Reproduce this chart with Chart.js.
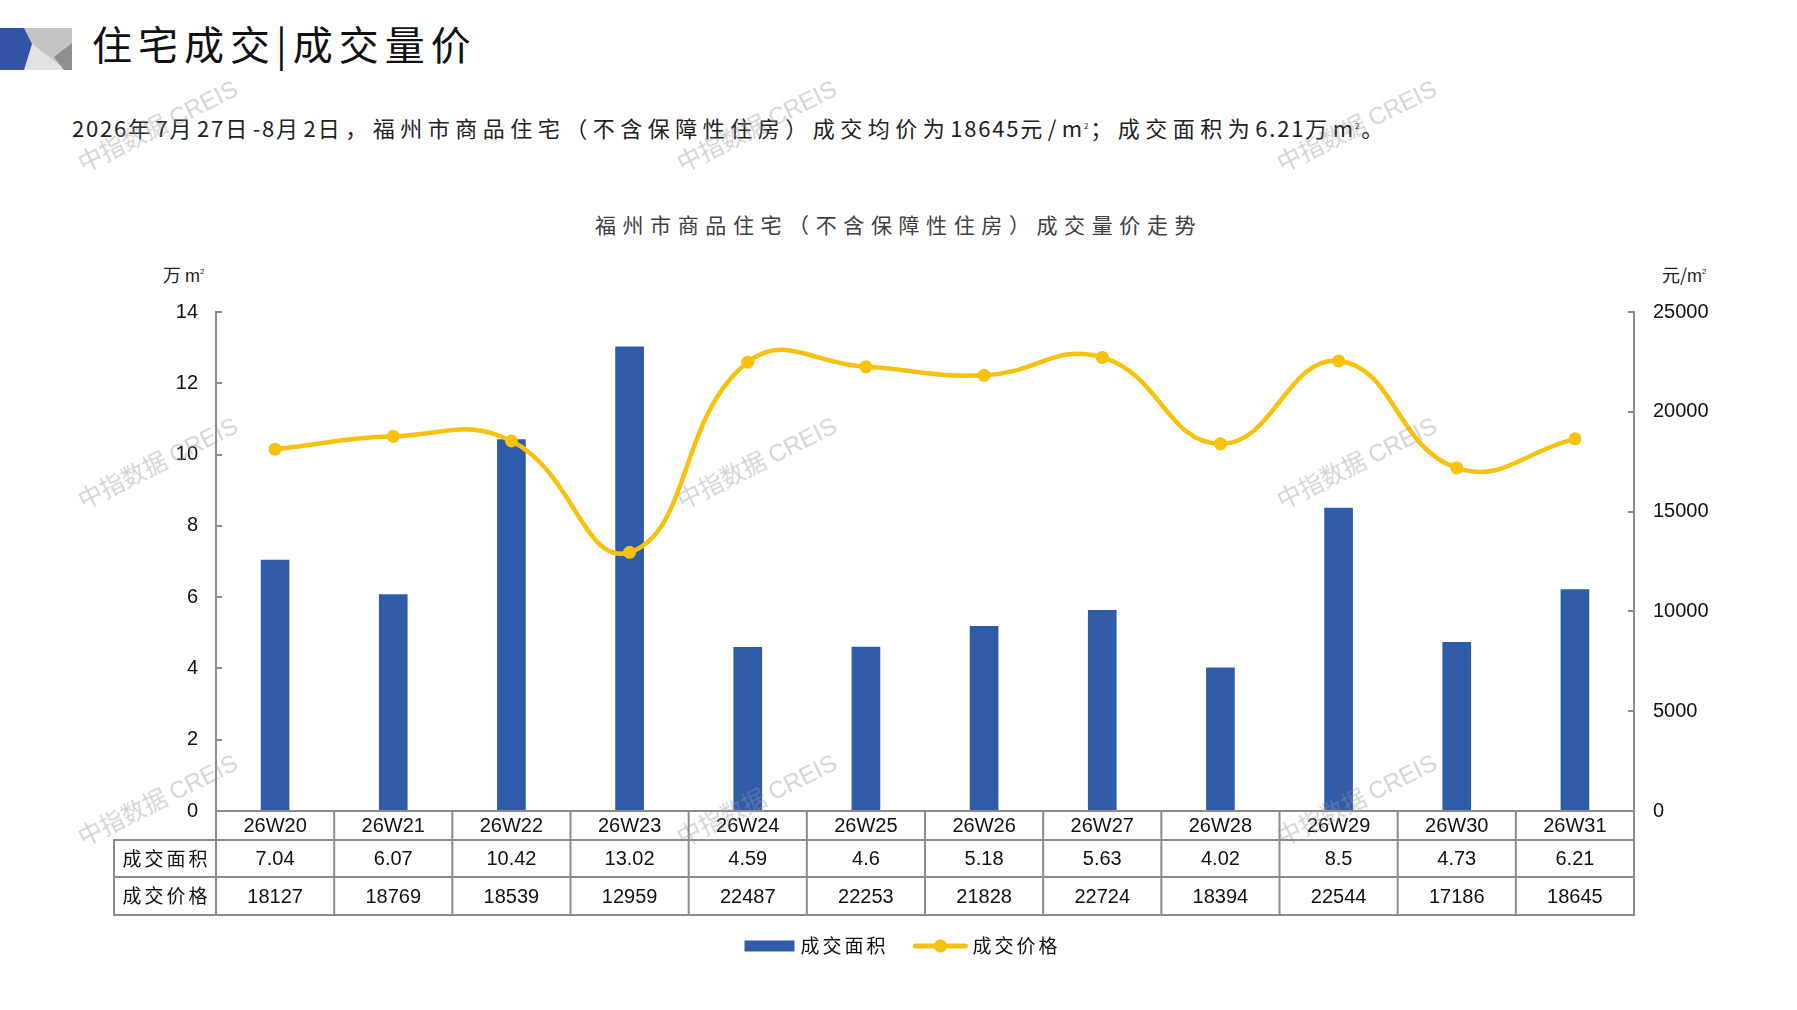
<!DOCTYPE html>
<html>
<head>
<meta charset="utf-8">
<script src="https://cdn.jsdelivr.net/npm/chart.js@4.4.1/dist/chart.umd.min.js"></script>
<style>
  html, body { margin:0; padding:0; background:#fff; width:1797px; height:1010px; overflow:hidden; }
  #wrap { position:absolute; left:0; top:0; width:1797px; height:1010px; }
  .abs { position:absolute; white-space:nowrap; }
  #title { left:92px; top:18px; font: 400 40px "Noto Sans CJK SC", sans-serif; letter-spacing:6px; color:#111; line-height:50px; }
  #sub { left:72px; top:110px; font: 400 22px "Noto Sans CJK SC", sans-serif; letter-spacing:5.5px; color:#222; line-height:32px; }
  #sub .n { letter-spacing:1.8px; }
  #ctitle { left:0; width:1797px; text-align:center; top:208px; font: 400 21px "Noto Sans CJK SC", sans-serif; letter-spacing:6.6px; color:#404040; line-height:32px; }
  .unit { top:259px; font: 400 18px "Noto Sans CJK SC", sans-serif; color:#222; line-height:26px; }
  .unit span { font-family: "Liberation Sans", Arial, sans-serif; }
  sup { font-size:8px; vertical-align: 8px; }
  .wm { position:absolute; white-space:nowrap; font: 400 24px "Noto Sans CJK SC", "Liberation Sans", sans-serif; color: rgba(150,150,150,0.42); transform: translate(-50%,-50%) rotate(-26.5deg); pointer-events:none; }
  .wm span { font-family: "Liberation Sans", Arial, sans-serif; }
</style>
</head>
<body>
<svg class="abs" style="left:0;top:0" width="80" height="80">
  <rect x="24" y="28" width="48" height="42" fill="#c4c4c4"/>
  <polygon points="30,42 22,70 66,70" fill="#e2e2e2"/>
  <polygon points="54,57 72,43 72,70 64,70" fill="#8e8e8e"/>
  <polygon points="0,28 24,28 32,44 24,70 0,70" fill="#3353a6"/>
</svg>
<div id="title" class="abs">住宅成交|成交量价</div>
<div id="sub" class="abs"><span class="n">2026</span>年<span class="n">7</span>月<span class="n">27</span>日<span class="n">-8</span>月<span class="n">2</span>日，福州市商品住宅（不含保障性住房）成交均价为<span class="n">18645</span>元/<span class="n">m<sup>2</sup></span>；成交面积为<span class="n">6.21</span>万<span class="n">m<sup>2</sup></span>。</div>
<div id="ctitle" class="abs">福州市商品住宅（不含保障性住房）成交量价走势</div>
<div class="abs unit" style="left:163px;">万 <span>m<sup>2</sup></span></div>
<div class="abs unit" style="left:1662px;">元/<span>m<sup>2</sup></span></div>
<div id="wrap"><canvas id="c"></canvas></div>
<div class="wm" style="left:157px;top:124px">中指数据 <span>CREIS</span></div>
<div class="wm" style="left:756px;top:124px">中指数据 <span>CREIS</span></div>
<div class="wm" style="left:1356px;top:124px">中指数据 <span>CREIS</span></div>
<div class="wm" style="left:157px;top:461px">中指数据 <span>CREIS</span></div>
<div class="wm" style="left:756px;top:461px">中指数据 <span>CREIS</span></div>
<div class="wm" style="left:1356px;top:461px">中指数据 <span>CREIS</span></div>
<div class="wm" style="left:157px;top:798px">中指数据 <span>CREIS</span></div>
<div class="wm" style="left:756px;top:798px">中指数据 <span>CREIS</span></div>
<div class="wm" style="left:1356px;top:798px">中指数据 <span>CREIS</span></div>
<script>
// ---- data ----
const categories = ['26W20','26W21','26W22','26W23','26W24','26W25','26W26','26W27','26W28','26W29','26W30','26W31'];
const areaValues = [7.04, 6.07, 10.42, 13.02, 4.59, 4.6, 5.18, 5.63, 4.02, 8.5, 4.73, 6.21];
const priceValues = [18127, 18769, 18539, 12959, 22487, 22253, 21828, 22724, 18394, 22544, 17186, 18645];
const areaName = '成交面积';
const priceName = '成交价格';
const leftTicks = [0, 2, 4, 6, 8, 10, 12, 14];
const rightTicks = [0, 5000, 10000, 15000, 20000, 25000];

const BLUE = '#2f5ba9';
const GOLD = '#f7c10c';
const GRID = '#8c8c8c';

const tableFont = '20px "Liberation Sans Narrow", "Liberation Sans", Arial, sans-serif';
const cjkFont = '19px "Noto Sans CJK SC", sans-serif';

function setSpacing(ctx, v) { try { ctx.letterSpacing = v; } catch(e) {} }

const innerTicks = {
  id: 'innerTicks',
  afterDatasetsDraw(chart) {
    const ctx = chart.ctx;
    ctx.save();
    ctx.strokeStyle = GRID; ctx.lineWidth = 2;
    const y = chart.scales.y, y1 = chart.scales.y1;
    y.ticks.forEach(t => { const p = Math.round(y.getPixelForValue(t.value)); ctx.beginPath(); ctx.moveTo(y.right, p); ctx.lineTo(y.right + 6, p); ctx.stroke(); });
    y1.ticks.forEach(t => { const p = Math.round(y1.getPixelForValue(t.value)); ctx.beginPath(); ctx.moveTo(y1.left, p); ctx.lineTo(y1.left - 6, p); ctx.stroke(); });
    ctx.restore();
  }
};

const dataTable = {
  id: 'dataTable',
  afterDraw(chart) {
    const ctx = chart.ctx, a = chart.chartArea, x = chart.scales.x;
    const n = categories.length;
    const cw = (a.right - a.left) / n;
    const rows = [a.bottom, a.bottom + 29, a.bottom + 66, a.bottom + 104];
    const leftX = a.left - 102;
    const line = (x1, y1, x2, y2) => { ctx.beginPath(); ctx.moveTo(x1, y1); ctx.lineTo(x2, y2); ctx.stroke(); };
    ctx.save();
    ctx.strokeStyle = GRID; ctx.lineWidth = 2;
    line(a.left - 1, rows[0], a.right + 1, rows[0]);
    for (let r = 1; r < 4; r++) line(leftX - 1, rows[r], a.right + 1, rows[r]);
    for (let i = 0; i <= n; i++) { const xx = a.left + i * cw; line(xx, rows[0], xx, rows[3]); }
    line(leftX, rows[1], leftX, rows[3]);
    ctx.fillStyle = '#111';
    ctx.textAlign = 'center'; ctx.textBaseline = 'middle';
    ctx.font = tableFont;
    for (let i = 0; i < n; i++) {
      const cx = x.getPixelForValue(i);
      ctx.fillText(categories[i], cx, (rows[0] + rows[1]) / 2 + 1);
      ctx.fillText(String(areaValues[i]), cx, (rows[1] + rows[2]) / 2 + 1);
      ctx.fillText(String(priceValues[i]), cx, (rows[2] + rows[3]) / 2 + 1);
    }
    ctx.font = cjkFont; setSpacing(ctx, '3px');
    ctx.fillText(areaName, (leftX + a.left) / 2 + 1.5, (rows[1] + rows[2]) / 2);
    ctx.fillText(priceName, (leftX + a.left) / 2 + 1.5, (rows[2] + rows[3]) / 2);
    setSpacing(ctx, '0px');
    // legend
    ctx.font = '19px "Noto Sans CJK SC", sans-serif'; setSpacing(ctx, '3px');
    const ly = rows[3] + 31;
    const t1 = ctx.measureText(areaName).width, t2 = ctx.measureText(priceName).width;
    const total = 50 + 6 + t1 + 25 + 54 + 5 + t2;
    let lx = chart.width / 2 - total / 2 + 4;
    const bar = chart.data.datasets[1], ln = chart.data.datasets[0];
    ctx.fillStyle = bar.backgroundColor; ctx.fillRect(lx, ly - 5.5, 50, 11);
    lx += 56;
    ctx.fillStyle = '#111'; ctx.textAlign = 'left';
    ctx.fillText(areaName, lx, ly); lx += t1 + 25;
    ctx.strokeStyle = ln.borderColor; ctx.lineWidth = 5; ctx.lineCap = 'round';
    line(lx + 2, ly, lx + 52, ly);
    ctx.fillStyle = ln.borderColor; ctx.beginPath(); ctx.arc(lx + 27, ly, 6.5, 0, Math.PI * 2); ctx.fill();
    lx += 59;
    ctx.fillStyle = '#111'; ctx.fillText(priceName, lx, ly);
    ctx.restore();
  }
};

new Chart(document.getElementById('c'), {
  data: {
    labels: categories,
    datasets: [
      { type: 'line', label: priceName, data: priceValues, yAxisID: 'y1', order: 0,
        borderColor: GOLD, backgroundColor: GOLD, borderWidth: 4.5, tension: 0.45,
        pointRadius: 6.5, pointBorderWidth: 0, pointBackgroundColor: GOLD, pointHoverRadius: 6.5 },
      { type: 'bar', label: areaName, data: areaValues, yAxisID: 'y', order: 1,
        backgroundColor: BLUE, barThickness: 28 }
    ]
  },
  options: {
    responsive: true, maintainAspectRatio: false, animation: false,
    devicePixelRatio: 1,
    layout: { padding: { left: 0, right: 0, top: 312, bottom: 199 } },
    plugins: { legend: { display: false }, tooltip: { enabled: false }, title: { display: false } },
    scales: {
      x: { display: false, offset: true },
      y: { position: 'left', min: 0, max: 14,
        afterFit(s) { s.width = 216; },
        afterBuildTicks(s) { s.ticks = leftTicks.map(v => ({ value: v })); },
        grid: { display: false },
        border: { display: true, color: GRID, width: 2 },
        ticks: { padding: 10, color: '#111', callback: v => String(v), font: { family: '"Liberation Sans", Arial, sans-serif', size: 20 } } },
      y1: { position: 'right', min: 0, max: 25000,
        afterFit(s) { s.width = 163; },
        afterBuildTicks(s) { s.ticks = rightTicks.map(v => ({ value: v })); },
        grid: { display: false },
        border: { display: true, color: GRID, width: 2 },
        ticks: { padding: 11, color: '#111', callback: v => String(v), font: { family: '"Liberation Sans", Arial, sans-serif', size: 20 } } }
    }
  },
  plugins: [innerTicks, dataTable]
});
</script>
</body>
</html>
